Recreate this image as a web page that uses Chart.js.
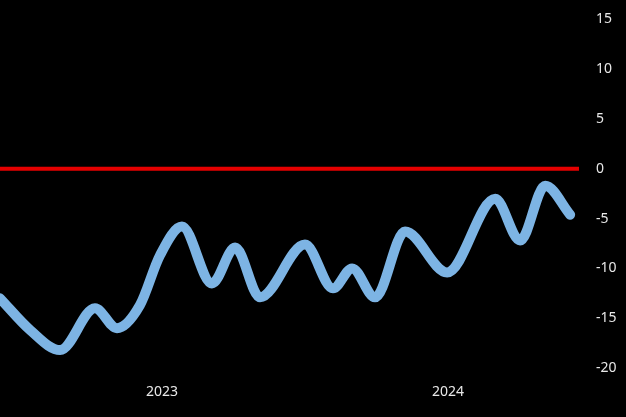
<!DOCTYPE html>
<html>
<head>
<meta charset="utf-8">
<script src="https://cdn.jsdelivr.net/npm/chart.js@4/dist/chart.umd.min.js"></script>
<style>
  html, body { margin: 0; padding: 0; background: #000; }
  canvas { display: block; }
</style>
</head>
<body>
<canvas id="gapChart" width="626" height="417"></canvas>
<script>
// x positions in decimal years
var xValues = [2022.934, 2023.04, 2023.144, 2023.266, 2023.343, 2023.423, 2023.493, 2023.57,
               2023.675, 2023.756, 2023.843, 2024.0, 2024.098, 2024.165, 2024.245, 2024.35,
               2024.497, 2024.665, 2024.752, 2024.84, 2024.927];
var seriesValues = [-13.0, -16.2, -18.2, -14.0, -16.0, -13.7, -8.7, -5.8,
                    -11.5, -7.9, -12.9, -7.6, -12.0, -10.0, -12.9, -6.3,
                    -10.4, -3.0, -7.2, -1.7, -4.6];
var xRange = [2022.934, 2024.958];
var xTickValues = [2023.5, 2024.5];
var xTickLabels = ['2023', '2024'];
var yTickValues = [-20, -15, -10, -5, 0, 5, 10, 15];
var yRange = [-21.2, 16.95];
var zeroLevel = 0;

var points = xValues.map(function(x, i) {
    return { x: x, y: seriesValues[i] };
});
var zeroLine = [{ x: xRange[0], y: zeroLevel }, { x: xRange[1], y: zeroLevel }];

var tickFont = { family: 'Noto Sans', size: 14 };

var ctx = document.getElementById('gapChart').getContext('2d');
new Chart(ctx, {
    type: 'line',
    data: {
        datasets: [{
            data: zeroLine,
            borderColor: '#e50000',
            borderWidth: 4,
            pointRadius: 0,
            parsing: false
        }, {
            data: points,
            borderColor: '#7db4e4',
            borderWidth: 10,
            borderCapStyle: 'round',
            borderJoinStyle: 'round',
            pointRadius: 0,
            cubicInterpolationMode: 'monotone',
            parsing: false
        }]
    },
    options: {
        responsive: false,
        animation: false,
        layout: { padding: 0 },
        plugins: {
            legend: { display: false },
            tooltip: { enabled: false }
        },
        scales: {
            x: {
                type: 'linear',
                min: xRange[0],
                max: xRange[1],
                border: { display: false },
                grid: { display: false, drawTicks: false },
                afterBuildTicks: function(axis) {
                    axis.ticks = xTickValues.map(function(v) { return { value: v }; });
                },
                afterFit: function(axis) {
                    axis.height = 37;
                    axis.paddingLeft = 0;
                    axis.paddingRight = 0;
                },
                ticks: {
                    color: '#e8e8e8',
                    font: tickFont,
                    padding: 4,
                    maxRotation: 0,
                    autoSkip: false,
                    callback: function(value) {
                        var i = xTickValues.indexOf(value);
                        return i >= 0 ? xTickLabels[i] : '';
                    }
                }
            },
            y: {
                position: 'right',
                min: yRange[0],
                max: yRange[1],
                border: { display: false },
                grid: { display: false, drawTicks: false },
                afterBuildTicks: function(axis) {
                    axis.ticks = yTickValues.map(function(v) { return { value: v }; });
                },
                afterFit: function(axis) {
                    axis.width = 47;
                    axis.paddingTop = 0;
                    axis.paddingBottom = 0;
                },
                ticks: {
                    color: '#e8e8e8',
                    font: tickFont,
                    padding: 17,
                    autoSkip: false
                }
            }
        }
    }
});
</script>
</body>
</html>
